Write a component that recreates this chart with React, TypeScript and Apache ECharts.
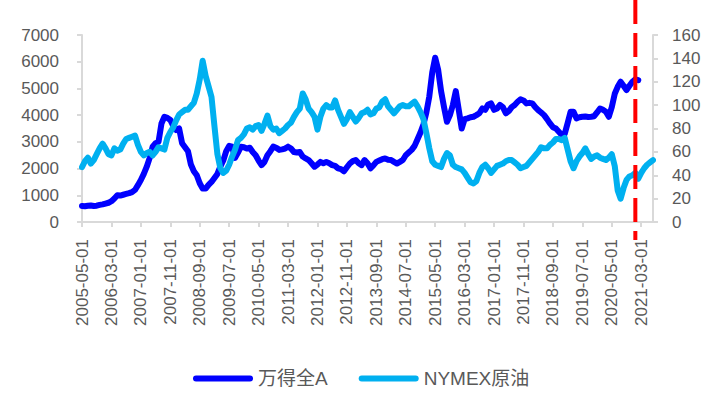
import React, { useEffect, useRef } from "react";
import * as echarts from "echarts";

const FONT = "'Liberation Sans', Arial, 'Noto Sans CJK SC', sans-serif";
const START_YEAR = 2005;
const START_MONTH = 5;
const MONTH_COUNT = 195;
const MARK_DATE = "2021-01-01";

const SERIES_NAMES = ["万得全A", "NYMEX原油"];

// 万得全A (left axis), monthly from 2005-05
const WIND_A = [
  600, 590, 610, 620, 600, 610, 640, 660, 690, 720,
  780, 880, 1000, 990, 1020, 1050, 1080, 1120, 1200, 1380,
  1570, 1800, 2070, 2400, 2820, 2950, 3000, 3690, 3940, 3900,
  3820, 3600, 3440, 3500, 2950, 2800, 2650, 2150, 1900, 1750,
  1450, 1250, 1250, 1390, 1500, 1650, 1800, 2070, 2300, 2650,
  2850, 2820, 2400, 2600, 2820, 2800, 2750, 2780, 2620, 2500,
  2300, 2130, 2250, 2500, 2650, 2820, 2780, 2700, 2720, 2750,
  2820, 2750, 2620, 2600, 2620, 2450, 2380, 2320, 2200, 2070,
  2150, 2250, 2200, 2250, 2200, 2130, 2100, 2010, 1980, 1900,
  2050, 2190, 2280, 2320, 2200, 2130, 2320, 2200, 2010, 2120,
  2250, 2300, 2350, 2380, 2330, 2320, 2250, 2190, 2250, 2320,
  2500, 2600, 2700, 2850, 3100, 3350, 3650, 4100, 4700, 5600,
  6150, 5700, 4900, 4300, 3750, 4000, 4380, 4900, 4200, 3500,
  3850, 3880, 3920, 3940, 4000, 4070, 4250, 4200, 4400, 4440,
  4200, 4250, 4380, 4300, 4070, 4150, 4300, 4380, 4500, 4590,
  4550, 4440, 4460, 4440, 4300, 4190, 4100, 4000, 3850, 3690,
  3550, 3500, 3380, 3260, 3300, 3700, 4130, 4130, 3880, 3920,
  3940, 3950, 3930, 3940, 3960, 4100, 4250, 4200, 4130, 3940,
  4300, 4800, 5060, 5250, 5100, 4940, 5100, 5250, 5340, 5310,
];

// NYMEX原油 (right axis), monthly from 2005-05
const NYMEX_OIL = [
  47, 52, 55, 50, 53, 58, 63, 67, 63, 58,
  57, 63, 61, 62, 67, 71, 72, 73, 74, 66,
  60, 57, 59, 60, 57, 60, 64, 63, 62, 72,
  77, 81, 87, 92, 94, 96, 96, 99, 102, 110,
  122, 138, 125, 116, 107, 82, 58, 46, 42, 44,
  49, 56, 62, 70, 72, 75, 80, 81, 79, 82,
  83, 78, 84, 91, 82, 79, 80, 76, 78, 80,
  83, 85, 90, 94, 97, 110, 105, 97, 94, 90,
  79, 90, 97, 100, 98, 98, 104, 96, 90, 84,
  88, 94, 90, 86, 89, 93, 94, 96, 92, 93,
  97, 98, 103, 105, 99, 96, 93, 96, 99, 100,
  99, 99, 101, 103, 99, 94, 88, 76, 63, 52,
  49, 48, 47, 54, 59, 57, 49, 47, 46, 45,
  42, 38, 34, 33, 35, 42, 47, 49, 46, 42,
  45, 48, 49, 50, 52, 53, 53, 51, 49, 46,
  47, 48, 51, 54, 57, 60, 64, 63, 63, 66,
  68, 71, 71, 70, 72, 62, 52, 46, 52, 56,
  59, 63, 58, 54, 56, 57, 55, 54, 53, 55,
  58, 48, 27, 20, 29, 36, 39, 40, 42, 37,
  42, 46, 49, 51, 53,
];

const LEFT_MAX = 7000;
const LEFT_STEP = 1000;
const RIGHT_MAX = 160;
const RIGHT_STEP = 20;

function buildMonths(): string[] {
  const out: string[] = [];
  for (let i = 0; i < MONTH_COUNT; i++) {
    const t = START_MONTH - 1 + i;
    const y = START_YEAR + Math.floor(t / 12);
    const m = (t % 12) + 1;
    out.push(`${y}-${m < 10 ? "0" + m : m}-01`);
  }
  return out;
}

const AXIS_GRAY = "#D9D9D9";
const TEXT_GRAY = "#595959";
const plain = (v: number) => String(v);

export default function App() {
  const ref = useRef<HTMLDivElement>(null);

  useEffect(() => {
    if (!ref.current) return;
    const chart = echarts.init(ref.current, null, { renderer: "svg" });
    const months = buildMonths();
    const option: any = {
      animation: false,
      textStyle: { fontFamily: FONT },
      grid: { left: 82, right: 61, top: 35, bottom: 174, containLabel: false },
      legend: {
        left: 188,
        top: 364,
        itemWidth: 60,
        itemHeight: 6,
        itemGap: 31,
        icon: "path://M3 0H57A3 3 0 0 1 57 6H3A3 3 0 0 1 3 0Z",
        textStyle: { fontSize: 19, color: TEXT_GRAY, fontFamily: FONT },
        data: SERIES_NAMES,
      },
      xAxis: {
        type: "category",
        boundaryGap: false,
        data: months,
        axisLine: { lineStyle: { color: AXIS_GRAY, width: 2 } },
        axisTick: {
          show: true,
          interval: 9,
          length: 5,
          lineStyle: { color: AXIS_GRAY, width: 2 },
        },
        axisLabel: {
          interval: 9,
          rotate: 90,
          margin: 17,
          fontSize: 17,
          color: TEXT_GRAY,
          fontFamily: FONT,
        },
        splitLine: { show: false },
      },
      yAxis: [
        {
          type: "value",
          position: "left",
          min: 0,
          max: LEFT_MAX,
          interval: LEFT_STEP,
          axisLine: { show: true, lineStyle: { color: AXIS_GRAY, width: 2 } },
          axisTick: { show: true, length: 5, lineStyle: { color: AXIS_GRAY, width: 2 } },
          axisLabel: { margin: 23, fontSize: 17, color: TEXT_GRAY, fontFamily: FONT, formatter: plain },
          splitLine: { show: false },
        },
        {
          type: "value",
          position: "right",
          min: 0,
          max: RIGHT_MAX,
          interval: RIGHT_STEP,
          axisLine: { show: true, lineStyle: { color: AXIS_GRAY, width: 2 } },
          axisTick: { show: true, length: 5, lineStyle: { color: AXIS_GRAY, width: 2 } },
          axisLabel: { margin: 19, fontSize: 17, color: TEXT_GRAY, fontFamily: FONT, formatter: plain },
          splitLine: { show: false },
        },
      ],
      series: [
        {
          name: SERIES_NAMES[0],
          type: "line",
          yAxisIndex: 0,
          data: WIND_A,
          symbol: "none",
          showSymbol: false,
          itemStyle: { color: "#0000FF" },
          lineStyle: { color: "#0000FF", width: 6, cap: "round", join: "round" },
        },
        {
          name: SERIES_NAMES[1],
          type: "line",
          yAxisIndex: 1,
          data: NYMEX_OIL,
          symbol: "none",
          showSymbol: false,
          itemStyle: { color: "#00B0F0" },
          lineStyle: { color: "#00B0F0", width: 6, cap: "round", join: "round" },
        },
      ],
    };
    chart.setOption(option);
    const mx = chart.convertToPixel({ xAxisIndex: 0 }, MARK_DATE) as number;
    chart.setOption({
      graphic: [
        {
          type: "line",
          z: 100,
          shape: { x1: mx, y1: 0, x2: mx, y2: 240 },
          style: { stroke: "#FF0000", lineWidth: 4, lineDash: [24, 9] },
        },
      ],
    });
    return () => chart.dispose();
  }, []);

  return (
    <div
      ref={ref}
      style={{ position: "fixed", left: 0, top: 0, width: 714, height: 396, background: "#fff" }}
    />
  );
}
